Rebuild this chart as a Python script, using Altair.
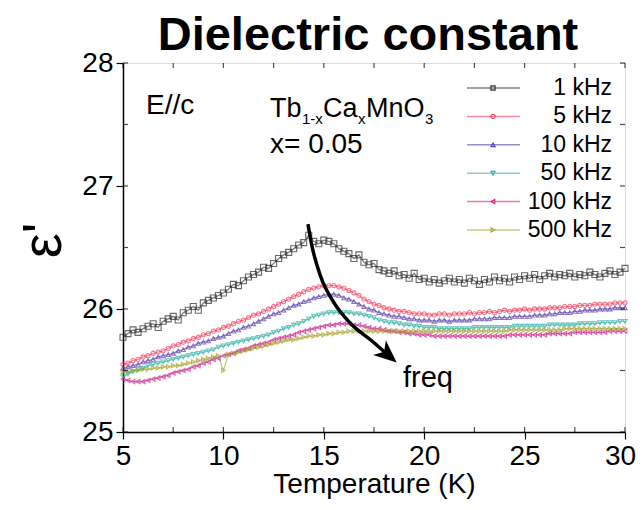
import altair as alt
import pandas as pd

# ---------------- data ----------------
temperature = [
    5.00, 5.25, 5.50, 5.75, 6.00, 6.25, 6.50, 6.75, 7.00, 7.25, 7.50, 7.75,
    8.00, 8.25, 8.50, 8.75, 9.00, 9.25, 9.50, 9.75, 10.00, 10.25, 10.50, 10.75,
    11.00, 11.25, 11.50, 11.75, 12.00, 12.25, 12.50, 12.75, 13.00, 13.25, 13.50, 13.75,
    14.00, 14.25, 14.50, 14.75, 15.00, 15.25, 15.50, 15.75, 16.00, 16.25, 16.50, 16.75,
    17.00, 17.25, 17.50, 17.75, 18.00, 18.25, 18.50, 18.75, 19.00, 19.25, 19.50, 19.75,
    20.00, 20.25, 20.50, 20.75, 21.00, 21.25, 21.50, 21.75, 22.00, 22.25, 22.50, 22.75,
    23.00, 23.25, 23.50, 23.75, 24.00, 24.25, 24.50, 24.75, 25.00, 25.25, 25.50, 25.75,
    26.00, 26.25, 26.50, 26.75, 27.00, 27.25, 27.50, 27.75, 28.00, 28.25, 28.50, 28.75,
    29.00, 29.25, 29.50, 29.75, 30.00,
]

eps_1k = [
    25.77, 25.80, 25.83, 25.81, 25.84, 25.86, 25.88, 25.85, 25.90, 25.92, 25.94, 25.91,
    25.97, 25.99, 26.02, 25.99, 26.05, 26.07, 26.09, 26.11, 26.13, 26.16, 26.20, 26.19,
    26.23, 26.26, 26.28, 26.30, 26.34, 26.33, 26.37, 26.41, 26.44, 26.46, 26.49, 26.52,
    26.54, 26.60, 26.55, 26.53, 26.56, 26.55, 26.53, 26.49, 26.47, 26.45, 26.41, 26.44,
    26.38, 26.36, 26.37, 26.32, 26.31, 26.29, 26.31, 26.27, 26.28, 26.25, 26.29, 26.24,
    26.25, 26.22, 26.24, 26.21, 26.23, 26.25, 26.22, 26.24, 26.21, 26.25, 26.23, 26.20,
    26.24, 26.22, 26.26, 26.23, 26.25, 26.22, 26.26, 26.24, 26.27, 26.25, 26.28, 26.24,
    26.27, 26.29, 26.26, 26.28, 26.27, 26.29, 26.26, 26.28, 26.27, 26.30, 26.28, 26.26,
    26.29, 26.31, 26.28, 26.30, 26.33,
]

eps_5k = [
    25.55, 25.56, 25.58, 25.59, 25.61, 25.62, 25.64, 25.65, 25.66, 25.68, 25.70, 25.71,
    25.73, 25.74, 25.76, 25.77, 25.79, 25.80, 25.82, 25.83, 25.85, 25.86, 25.88, 25.90,
    25.91, 25.93, 25.95, 25.96, 25.98, 26.00, 26.02, 26.04, 26.06, 26.08, 26.10, 26.12,
    26.14, 26.16, 26.17, 26.18, 26.19, 26.19, 26.19, 26.18, 26.17, 26.15, 26.13, 26.11,
    26.08, 26.06, 26.04, 26.03, 26.01, 26.00, 25.99, 25.98, 25.98, 25.97, 25.96, 25.96,
    25.96, 25.95, 25.95, 25.96, 25.96, 25.95, 25.96, 25.96, 25.96, 25.97, 25.96, 25.97,
    25.97, 25.98, 25.97, 25.98, 25.99, 25.98, 25.99, 25.99, 26.00, 25.99, 26.00, 26.00,
    26.00, 26.01, 26.01, 26.01, 26.02, 26.02, 26.02, 26.03, 26.03, 26.03, 26.04, 26.04,
    26.04, 26.04, 26.05, 26.05, 26.05,
]

eps_10k = [
    25.52, 25.53, 25.54, 25.55, 25.57, 25.58, 25.59, 25.61, 25.62, 25.63, 25.64, 25.66,
    25.67, 25.69, 25.70, 25.72, 25.73, 25.74, 25.76, 25.77, 25.78, 25.80, 25.82, 25.83,
    25.85, 25.86, 25.88, 25.90, 25.92, 25.94, 25.96, 25.97, 25.99, 26.01, 26.03, 26.04,
    26.06, 26.07, 26.09, 26.10, 26.11, 26.12, 26.12, 26.11, 26.09, 26.08, 26.06, 26.04,
    26.02, 26.00, 25.99, 25.97, 25.96, 25.95, 25.94, 25.94, 25.93, 25.92, 25.92, 25.91,
    25.91, 25.91, 25.90, 25.91, 25.91, 25.90, 25.91, 25.91, 25.91, 25.91, 25.92, 25.92,
    25.92, 25.92, 25.93, 25.93, 25.93, 25.93, 25.94, 25.94, 25.94, 25.94, 25.95, 25.95,
    25.95, 25.96, 25.96, 25.97, 25.97, 25.97, 25.98, 25.98, 25.99, 25.99, 25.99, 26.00,
    26.00, 26.00, 26.01, 26.01, 26.01,
]

eps_50k = [
    25.45, 25.47, 25.49, 25.51, 25.52, 25.54, 25.55, 25.56, 25.57, 25.58, 25.59, 25.60,
    25.61, 25.62, 25.63, 25.64, 25.65, 25.66, 25.67, 25.69, 25.70, 25.71, 25.72, 25.73,
    25.74, 25.75, 25.76, 25.77, 25.78, 25.79, 25.81, 25.82, 25.84, 25.85, 25.87, 25.88,
    25.90, 25.92, 25.94, 25.95, 25.96, 25.97, 25.97, 25.97, 25.97, 25.97, 25.96, 25.96,
    25.95, 25.94, 25.93, 25.91, 25.90, 25.89, 25.89, 25.88, 25.87, 25.87, 25.86, 25.86,
    25.85, 25.85, 25.85, 25.84, 25.84, 25.84, 25.84, 25.84, 25.84, 25.84, 25.85, 25.85,
    25.85, 25.85, 25.85, 25.85, 25.85, 25.85, 25.86, 25.86, 25.86, 25.86, 25.86, 25.86,
    25.86, 25.87, 25.87, 25.87, 25.87, 25.87, 25.87, 25.88, 25.88, 25.88, 25.88, 25.89,
    25.89, 25.89, 25.89, 25.90, 25.90,
]

eps_100k = [
    25.43, 25.42, 25.41, 25.41, 25.41, 25.42, 25.43, 25.44, 25.45, 25.46, 25.48, 25.49,
    25.50, 25.51, 25.53, 25.54, 25.56, 25.57, 25.59, 25.60, 25.62, 25.63, 25.64, 25.66,
    25.67, 25.68, 25.70, 25.71, 25.72, 25.73, 25.75, 25.76, 25.77, 25.78, 25.79, 25.81,
    25.82, 25.83, 25.84, 25.85, 25.86, 25.87, 25.87, 25.88, 25.88, 25.88, 25.87, 25.87,
    25.86, 25.85, 25.84, 25.84, 25.83, 25.82, 25.82, 25.81, 25.81, 25.80, 25.80, 25.79,
    25.79, 25.79, 25.78, 25.78, 25.78, 25.78, 25.78, 25.78, 25.78, 25.78, 25.78, 25.78,
    25.78, 25.78, 25.78, 25.78, 25.78, 25.79, 25.79, 25.79, 25.79, 25.79, 25.79, 25.79,
    25.79, 25.80, 25.80, 25.80, 25.80, 25.80, 25.81, 25.81, 25.81, 25.81, 25.81, 25.81,
    25.81, 25.82, 25.82, 25.82, 25.82,
]

eps_500k = [
    25.49, 25.49, 25.50, 25.50, 25.51, 25.51, 25.52, 25.52, 25.53, 25.53, 25.54, 25.54,
    25.55, 25.56, 25.57, 25.58, 25.59, 25.60, 25.61, 25.62, 25.50, 25.63, 25.64, 25.65,
    25.66, 25.67, 25.68, 25.69, 25.70, 25.71, 25.72, 25.73, 25.74, 25.75, 25.75, 25.76,
    25.77, 25.78, 25.78, 25.79, 25.79, 25.80, 25.80, 25.81, 25.81, 25.82, 25.82, 25.82,
    25.82, 25.82, 25.82, 25.82, 25.82, 25.82, 25.82, 25.82, 25.82, 25.82, 25.82, 25.82,
    25.82, 25.82, 25.82, 25.82, 25.82, 25.82, 25.82, 25.82, 25.82, 25.82, 25.82, 25.82,
    25.82, 25.82, 25.82, 25.82, 25.82, 25.83, 25.83, 25.83, 25.83, 25.83, 25.83, 25.83,
    25.83, 25.83, 25.83, 25.83, 25.84, 25.84, 25.84, 25.84, 25.84, 25.84, 25.84, 25.84,
    25.84, 25.84, 25.84, 25.84, 25.84,
]

series_names = ["1 kHz", "5 kHz", "10 kHz", "50 kHz", "100 kHz", "500 kHz"]
series_values = [eps_1k, eps_5k, eps_10k, eps_50k, eps_100k, eps_500k]
series_colors = ["#2a2a2a", "#f23a5c", "#5a3faa", "#2fb0a8", "#d2228c", "#a3a32a"]
series_shapes = ["square", "circle", "triangle-up", "triangle-down", "triangle-left", "triangle-right"]

x_ticks_major = [5, 10, 15, 20, 25, 30]
x_ticks_all = [5, 7.5, 10, 12.5, 15, 17.5, 20, 22.5, 25, 27.5, 30]
y_ticks_major = [25, 26, 27, 28]
y_ticks_all = [25, 25.5, 26, 26.5, 27, 27.5, 28]

arrow_T = [14.21, 14.40, 14.83, 15.51, 16.35, 17.40, 18.20]
arrow_eps = [26.69, 26.52, 26.27, 26.05, 25.88, 25.74, 25.625]
arrow_head_T = [18.20]
arrow_head_eps = [25.625]

# ---------------- layout ----------------
W, H = 502, 369
FONT = "Liberation Sans"

rows = []
for name, vals in zip(series_names, series_values):
    for t, v in zip(temperature, vals):
        rows.append({"T": t, "eps": v, "freq": name})
df = pd.DataFrame(rows)

xscale = alt.Scale(domain=[5, 30], nice=False, zero=False)
yscale = alt.Scale(domain=[25, 28], nice=False, zero=False)
cscale = alt.Scale(domain=series_names, range=series_colors)
sscale = alt.Scale(domain=series_names, range=series_shapes)

xaxis = alt.Axis(
    values=x_ticks_major, title="Temperature (K)", grid=False,
    labelFontSize=28, labelFont=FONT, labelColor="black", labelPadding=3,
    labelOffset={"condition": {"test": "datum.value == 30", "value": -5}, "value": 0},
    tickSize=7, tickColor="black", tickWidth=1.2, domainColor="black", domainWidth=1.5,
    titleFontSize=28, titleFont=FONT, titleFontWeight="normal", titleColor="black",
    titleX=W / 2, titleY=52, titleBaseline="middle", titleAlign="center",
    labelFlush=False, labelOverlap=False,
)
yaxis = alt.Axis(
    values=y_ticks_major, title="ε'", grid=False, format="d",
    labelFontSize=28, labelFont=FONT, labelColor="black", labelPadding=3,
    tickSize=7, tickColor="black", tickWidth=1.2, domainColor="black", domainWidth=1.5,
    titleFontSize=56, titleFont=FONT, titleFontWeight="normal", titleColor="black",
    titleX=-80, titleY=177, titleAngle=270, titleBaseline="middle", titleAlign="center",
    labelFlush=False, labelOverlap=False,
)

base = alt.Chart(df)
lines = base.mark_line(strokeWidth=1.3, opacity=0.6).encode(
    x=alt.X("T:Q", scale=xscale, axis=xaxis),
    y=alt.Y("eps:Q", scale=yscale, axis=yaxis),
    color=alt.Color("freq:N", scale=cscale, legend=None),
    detail="freq:N",
)
points = base.mark_point(filled=False, strokeWidth=1.1).encode(
    x=alt.X("T:Q", scale=xscale),
    y=alt.Y("eps:Q", scale=yscale),
    color=alt.Color("freq:N", scale=cscale, legend=None),
    shape=alt.Shape("freq:N", scale=sscale, legend=None),
    size=alt.condition(alt.datum.freq == "1 kHz", alt.value(36), alt.value(18)),
)

# short inward ticks on all four sides
xt = alt.Chart(pd.DataFrame({"t": x_ticks_all}))
yt = alt.Chart(pd.DataFrame({"t": y_ticks_all}))
tick_style = dict(color="black", thickness=1.2, size=5)
ticks_bottom = xt.mark_tick(orient="vertical", **tick_style).encode(
    x=alt.X("t:Q", scale=xscale), y=alt.value(H - 2.5))
ticks_top = xt.mark_tick(orient="vertical", **tick_style).encode(
    x=alt.X("t:Q", scale=xscale), y=alt.value(2.5))
ticks_left = yt.mark_tick(orient="horizontal", **tick_style).encode(
    y=alt.Y("t:Q", scale=yscale), x=alt.value(2.5))
ticks_right = yt.mark_tick(orient="horizontal", **tick_style).encode(
    y=alt.Y("t:Q", scale=yscale), x=alt.value(W - 2.5))

# arrow
arrow_df = pd.DataFrame({"T": arrow_T, "eps": arrow_eps, "o": list(range(len(arrow_T)))})
arrow_line = alt.Chart(arrow_df).mark_line(color="black", strokeWidth=3.5, interpolate="monotone").encode(
    x=alt.X("T:Q", scale=xscale), y=alt.Y("eps:Q", scale=yscale), order="o:Q")
head_df = pd.DataFrame({"T": arrow_head_T, "eps": arrow_head_eps})
arrow_head = alt.Chart(head_df).mark_point(
    shape="M 1 0 L -1 -0.85 L -0.45 0 L -1 0.85 Z", filled=True, color="black",
    opacity=1, size=520, angle=41,
).encode(x=alt.X("T:Q", scale=xscale), y=alt.Y("eps:Q", scale=yscale))

# manual legend
LEG_Y0, LEG_DY = 25, 28.4
leg_df = pd.DataFrame({"freq": series_names})
leg_df["ly"] = [LEG_Y0 + i * LEG_DY for i in range(len(series_names))]
leg = alt.Chart(leg_df)
leg_lines = leg.mark_rule(strokeWidth=1.5, opacity=0.6).encode(
    x=alt.value(344), x2=alt.value(397), y=alt.Y("ly:Q", scale=None),
    color=alt.Color("freq:N", scale=cscale, legend=None))
leg_pts = leg.mark_point(filled=False, strokeWidth=1.1, size=18, opacity=1).encode(
    x=alt.value(370), y=alt.Y("ly:Q", scale=None),
    color=alt.Color("freq:N", scale=cscale, legend=None),
    shape=alt.Shape("freq:N", scale=sscale, legend=None))
leg_txt = leg.mark_text(align="right", baseline="middle", fontSize=23, font=FONT, color="black").encode(
    x=alt.value(489), y=alt.Y("ly:Q", scale=None), text="freq:N")

# annotations
def label(txt, x, y, size=28, baseline="middle", align="left", weight="normal"):
    return alt.Chart(pd.DataFrame({"s": [txt]})).mark_text(
        align=align, baseline=baseline, fontSize=size, font=FONT, color="black",
        fontWeight=weight,
    ).encode(x=alt.value(x), y=alt.value(y), text="s:N")

FX, FY = 147, 54
annots = [
    label("Dielectric constant", 245, -13, 47, "alphabetic", "center", "bold"),
    label("E//c", 23, 43, 28),
    label("Tb", FX, FY, 27, "alphabetic"),
    label("1-x", FX + 32, FY + 7, 15, "alphabetic"),
    label("Ca", FX + 53, FY, 27, "alphabetic"),
    label("x", FX + 88, FY + 7, 15, "alphabetic"),
    label("MnO", FX + 96, FY, 27, "alphabetic"),
    label("3", FX + 155, FY + 7, 15, "alphabetic"),
    label("x= 0.05", FX, 82, 28),
    label("freq", 280, 324, 29, "alphabetic"),
]

chart = alt.layer(
    lines, points, ticks_bottom, ticks_top, ticks_left, ticks_right,
    arrow_line, arrow_head, leg_lines, leg_pts, leg_txt, *annots,
).properties(
    width=W, height=H,
    autosize=alt.AutoSizeParams(type="none"),
    padding={"left": 115, "top": 55, "right": 11, "bottom": 70},
).configure_view(stroke="black", strokeWidth=1.5).configure(background="white")

chart.save("out.html", embed_options={"renderer": "svg", "actions": False})
